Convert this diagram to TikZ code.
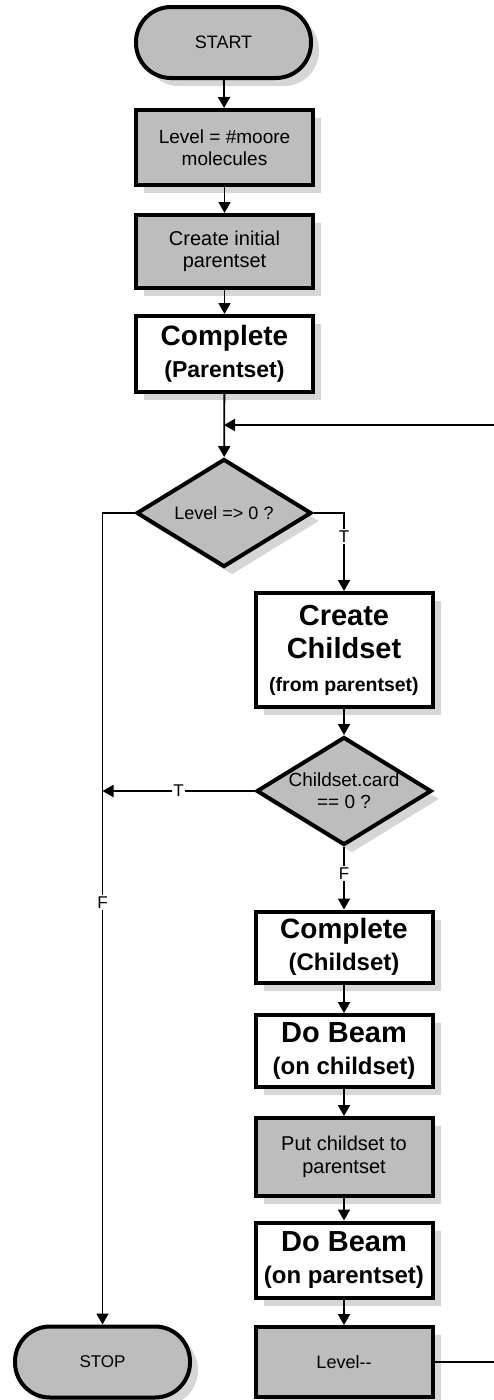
\documentclass[tikz,border=0pt]{standalone}
\usepackage{fontspec}
\setmainfont{Liberation Sans}
\usetikzlibrary{shapes.geometric,arrows.meta,shadows}

\definecolor{boxgray}{gray}{0.74}
\definecolor{shadegray}{gray}{0.84}
\newcommand\fsz[2]{\fontsize{#1}{#2}\selectfont}

\begin{document}
\begin{tikzpicture}[x=1pt,y=-1pt,
  base/.style={draw=black, line width=4pt, inner sep=2pt, align=center, text=black,
    drop shadow={shadow xshift=8pt, shadow yshift=-8pt, fill=shadegray, opacity=1}},
  graybox/.style={base, rectangle, fill=boxgray, minimum width=177pt},
  whitebox/.style={base, rectangle, fill=white, minimum width=177pt},
  term/.style={base, rectangle, rounded corners=35pt, fill=boxgray,
    minimum width=175pt, minimum height=71pt},
  decision/.style={base, diamond, aspect=1.6, fill=boxgray, inner sep=0pt,
    minimum width=175pt, minimum height=108pt},
  flow/.style={line width=1.8pt, -{Triangle[width=12pt,length=11pt]}},
  plain/.style={line width=1.8pt},
  lbl/.style={fill=white, inner sep=1.5pt, font=\fsz{17}{19}}
]
\useasboundingbox (0,0) rectangle (494,1400);

% main column
\node[term, font=\fsz{18}{20}] (start) at (223.5,42.5) {START};
\node[graybox, minimum height=75pt, font=\fsz{19}{22}] (level) at (224.5,147.5)
  {Level = \#moore\\molecules};
\node[graybox, minimum height=73pt, font=\fsz{20}{22}] (init) at (224.5,251.5)
  {Create initial\\parentset};
\node[whitebox, minimum height=76pt, font=\bfseries\fsz{23}{32}] (cpar) at (224.5,354)
  {{\fsz{28}{32}Complete}\\(Parentset)};
\node[decision, font=\fsz{18}{20}] (lvl0) at (224,513) {Level => 0 ?};

% right column
\node[whitebox, minimum height=114pt, font=\bfseries\fsz{29}{33}] (cc) at (344,650)
  {Create\\Childset\\{\fsz{19.5}{33}(from parentset)}};
\node[decision, font=\fsz{19}{22}] (card) at (344,791) {Childset.card\\== 0 ?};
\node[whitebox, minimum height=71pt, font=\bfseries\fsz{24}{32}] (cch) at (344,947)
  {{\fsz{28}{32}Complete}\\(Childset)};
\node[whitebox, minimum height=72pt, font=\bfseries\fsz{24}{32}] (beam1) at (344,1051)
  {{\fsz{29}{32}Do Beam}\\(on childset)};
\node[graybox, minimum height=78pt, font=\fsz{20}{23}] (put) at (344,1157)
  {Put childset to\\parentset};
\node[whitebox, minimum height=75pt, font=\bfseries\fsz{24}{32}] (beam2) at (344,1260)
  {{\fsz{29}{32}Do Beam}\\(on parentset)};
\node[graybox, minimum height=70pt, font=\fsz{18}{20}] (dec) at (344,1362) {Level-{}-};

% end
\node[term, font=\fsz{17}{20}] (stop) at (102.5,1362) {STOP};

% loop ends at the right margin
\coordinate (rtop) at (494,425);
\coordinate (rbot) at (494,1362);

% connectors
\draw[flow] (start) -- (level);
\draw[flow] (level) -- (init);
\draw[flow] (init) -- (cpar);
\draw[flow] (cpar) -- (lvl0);
\draw[flow] (lvl0.east) -| node[lbl, pos=0.65] {T} (cc.north);
\draw[flow] (lvl0.west) -| node[lbl, pos=0.74] {F} (stop.north);
\draw[flow] (cc) -- (card);
\draw[flow] (card.west) -- node[lbl] {T} (card.west -| stop.north);
\draw[flow] (card.south) -- node[lbl, pos=0.42] {F} (cch.north);
\draw[flow] (cch) -- (beam1);
\draw[flow] (beam1) -- (put);
\draw[flow] (put) -- (beam2);
\draw[flow] (beam2) -- (dec);
\draw[plain] (dec.east) -- (rbot);
\draw[flow] (rtop) -- (rtop -| lvl0.north);
\end{tikzpicture}
\end{document}
